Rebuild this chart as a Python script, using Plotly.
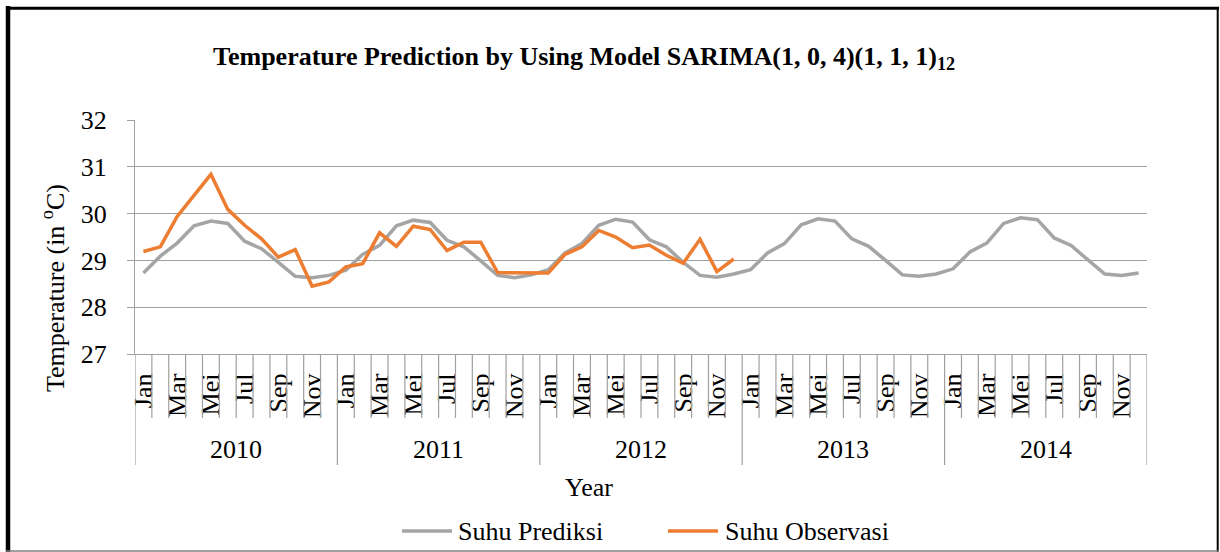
import plotly.graph_objects as go

# ---- data -------------------------------------------------------------
years = ["2010", "2011", "2012", "2013", "2014"]
months = ["Jan", "Feb", "Mar", "Apr", "Mei", "Jun",
          "Jul", "Agu", "Sep", "Okt", "Nov", "Des"]

suhu_prediksi = [
    28.73, 29.09, 29.37, 29.74, 29.84, 29.79, 29.41, 29.25, 28.96, 28.66, 28.63, 28.68,
    28.79, 29.13, 29.32, 29.74, 29.86, 29.81, 29.43, 29.29, 28.99, 28.68, 28.63, 28.69,
    28.80, 29.16, 29.36, 29.75, 29.88, 29.82, 29.44, 29.29, 28.96, 28.68, 28.64, 28.71,
    28.80, 29.16, 29.36, 29.76, 29.89, 29.84, 29.46, 29.30, 29.00, 28.69, 28.66, 28.71,
    28.82, 29.18, 29.37, 29.79, 29.91, 29.87, 29.48, 29.32, 29.01, 28.71, 28.68, 28.73,
]
suhu_observasi = [
    29.19, 29.29, 29.94, 30.39, 30.84, 30.09, 29.75, 29.46, 29.07, 29.23, 28.45, 28.54,
    28.86, 28.93, 29.59, 29.30, 29.73, 29.66, 29.21, 29.39, 29.39, 28.74, 28.74, 28.73,
    28.73, 29.13, 29.29, 29.64, 29.50, 29.27, 29.33, 29.11, 28.94, 29.45, 28.76, 29.03,
]

y_ticks = [27, 28, 29, 30, 31, 32]

# ---- geometry ---------------------------------------------------------
W, H = 1220, 552
L, R, T, B = 135, 73, 120, 198
PW, PH = W - L - R, H - T - B

def px(x):
    return (x - L) / PW

def py(y):
    return (H - B - y) / PH

FONT = "Times New Roman, Liberation Serif, serif"
GREY = "#A5A5A5"
ORANGE = "#ED7D31"
AXIS = "#A0A0A0"

n = len(years) * len(months)
x_idx = list(range(n))

fig = go.Figure()
fig.add_trace(go.Scatter(x=x_idx, y=suhu_prediksi, mode="lines",
                         line=dict(color=GREY, width=3.5), name="Suhu Prediksi"))
fig.add_trace(go.Scatter(x=x_idx[:len(suhu_observasi)], y=suhu_observasi, mode="lines",
                         line=dict(color=ORANGE, width=3.5), name="Suhu Observasi"))

# month labels: every other month is labelled
label_pos = [i for i in x_idx if i % 2 == 0]
label_txt = [months[i % 12] for i in label_pos]

fig.update_xaxes(range=[-0.5, n - 0.5], tickvals=label_pos, ticktext=label_txt,
                 tickangle=-90, ticks="", showgrid=False, zeroline=False,
                 showline=True, linecolor=AXIS, linewidth=1.3,
                 tickfont=dict(family=FONT, size=26, color="black"),
                 ticklabelstandoff=8)
fig.update_yaxes(range=[27, 32], tickvals=y_ticks, showgrid=True, gridcolor=AXIS,
                 gridwidth=1.3, zeroline=False, showline=True, linecolor=AXIS,
                 linewidth=1.3, ticks="outside", ticklen=7, tickcolor=AXIS,
                 tickwidth=1.3, tickfont=dict(family=FONT, size=26, color="black"),
                 ticklabelstandoff=15)

shapes = []
# category dividers under the axis
for k in range(n + 1):
    bottom = 465 if k % 12 == 0 else 418
    shapes.append(dict(type="line", xref="x", yref="paper", x0=k - 0.5, x1=k - 0.5,
                       y0=py(354), y1=py(bottom), line=dict(color=AXIS, width=1.2)))

# chart frame
shapes += [
    dict(type="line", xref="paper", yref="paper", x0=px(8), x1=px(8), y0=py(6), y1=py(552),
         line=dict(color="black", width=4.5)),
    dict(type="line", xref="paper", yref="paper", x0=px(6), x1=px(1219), y0=py(8.3), y1=py(8.3),
         line=dict(color="black", width=3)),
    dict(type="line", xref="paper", yref="paper", x0=px(1217.7), x1=px(1217.7), y0=py(7), y1=py(552),
         line=dict(color="black", width=2)),
    dict(type="line", xref="paper", yref="paper", x0=px(6), x1=px(1219), y0=py(551), y1=py(551),
         line=dict(color="#808080", width=1.5)),
]

# legend samples
shapes += [
    dict(type="line", xref="paper", yref="paper", x0=px(402), x1=px(452), y0=py(531), y1=py(531),
         line=dict(color=GREY, width=3.5)),
    dict(type="line", xref="paper", yref="paper", x0=px(668), x1=px(718), y0=py(531), y1=py(531),
         line=dict(color=ORANGE, width=3.5)),
]

annotations = []
for i, yr in enumerate(years):
    annotations.append(dict(text=yr, xref="x", yref="paper", x=12 * i + 5.5, y=py(450),
                            showarrow=False, xanchor="center", yanchor="middle",
                            font=dict(family=FONT, size=26, color="black")))

annotations += [
    dict(text="<b>Temperature Prediction by Using Model SARIMA(1, 0, 4)(1, 1, 1)<sub>12</sub></b>",
         xref="paper", yref="paper", x=px(584), y=py(58), showarrow=False,
         xanchor="center", yanchor="middle",
         font=dict(family=FONT, size=26, color="black")),
    dict(text="Temperature (in <sup>o</sup>C)", xref="paper", yref="paper",
         x=px(53), y=py(288), textangle=-90, showarrow=False,
         xanchor="center", yanchor="middle",
         font=dict(family=FONT, size=26, color="black")),
    dict(text="Year", xref="paper", yref="paper", x=px(589), y=py(487), showarrow=False,
         xanchor="center", yanchor="middle",
         font=dict(family=FONT, size=26, color="black")),
    dict(text="Suhu Prediksi", xref="paper", yref="paper", x=px(456), y=py(531),
         showarrow=False, xanchor="left", yanchor="middle",
         font=dict(family=FONT, size=26, color="black")),
    dict(text="Suhu Observasi", xref="paper", yref="paper", x=px(723), y=py(531),
         showarrow=False, xanchor="left", yanchor="middle",
         font=dict(family=FONT, size=26, color="black")),
]

fig.update_layout(width=W, height=H, margin=dict(l=L, r=R, t=T, b=B, pad=0),
                  font=dict(family=FONT, size=26, color="black"),
                  paper_bgcolor="white", plot_bgcolor="white", showlegend=False,
                  shapes=shapes, annotations=annotations)

fig.write_html("out.html")
